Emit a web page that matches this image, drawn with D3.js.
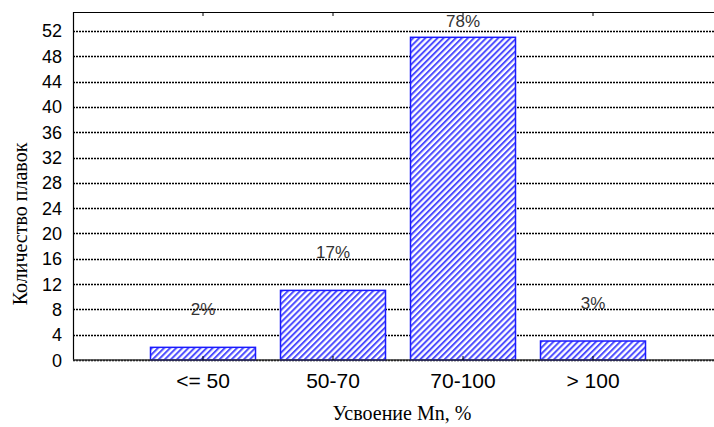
<!DOCTYPE html>
<html>
<head>
<meta charset="utf-8">
<script src="https://cdn.jsdelivr.net/npm/d3@7"></script>
<style>
body { margin: 0; background: #fff; }
</style>
</head>
<body>
<svg id="chart"></svg>
<script>
var categories = ["<= 50", "50-70", "70-100", "> 100"]
var counts = [2, 11, 51, 3]
var percentLabels = ["2%", "17%", "78%", "3%"]
var yTicks = [0, 4, 8, 12, 16, 20, 24, 28, 32, 36, 40, 44, 48, 52]

var w = 714, h = 427
var margins = {left: 73, top: 12}
var graphDim = {width: 650, height: 348}

var svg = d3.select("#chart").attr("width", w).attr("height", h)

// hatch pattern for the bars
var defs = svg.append("defs")
var pat = defs.append("pattern")
    .attr("id", "hatch")
    .attr("patternUnits", "userSpaceOnUse")
    .attr("width", 4.3).attr("height", 4.3)
    .attr("patternTransform", "rotate(45)")
pat.append("rect").attr("width", 4.3).attr("height", 4.3).attr("fill", "#ffffff")
pat.append("rect").attr("x", 0).attr("width", 2).attr("height", 4.3).attr("fill", "#4d4dff")

var target = svg.append("g")
    .attr("transform", "translate(" + margins.left + "," + margins.top + ")")

// positions 0..5, categories sit at 1..4
var xscale = d3.scaleLinear().domain([0, 5]).range([0, graphDim.width])
var yscale = d3.scaleLinear().domain([0, 55]).range([graphDim.height, 0])
var barw = 105

// grid lines
target.append("g").selectAll("line")
    .data(yTicks)
    .enter()
    .append("line")
    .attr("x1", 0)
    .attr("x2", graphDim.width)
    .attr("y1", function(d){return Math.round(yscale(d)) + 0.5})
    .attr("y2", function(d){return Math.round(yscale(d)) + 0.5})
    .attr("stroke", "#000")
    .attr("stroke-width", 1.6)
    .attr("stroke-dasharray", "2,1")

// bars
target.append("g").selectAll("rect")
    .data(counts)
    .enter()
    .append("rect")
    .attr("x", function(d, i){return xscale(i + 1) - barw/2})
    .attr("y", function(d){return yscale(d)})
    .attr("width", barw)
    .attr("height", function(d){return graphDim.height - yscale(d)})
    .attr("fill", "url(#hatch)")
    .attr("stroke", "#1a1aff")
    .attr("stroke-width", 1.5)

// percent labels
target.append("g").selectAll("text")
    .data(percentLabels)
    .enter()
    .append("text")
    .text(function(d){return d})
    .attr("x", function(d, i){return xscale(i + 1)})
    .attr("y", function(d, i){return yscale(Math.min(counts[i] + 6, 53.5)) + 6})
    .attr("text-anchor", "middle")
    .style("font-family", "Liberation Sans, Arial, sans-serif")
    .style("font-size", "17px")
    .attr("fill", "#333")

// frame: left, top, bottom
target.append("path")
    .attr("d", "M0.5," + graphDim.height + "V0.5H" + graphDim.width)
    .attr("fill", "none")
    .attr("stroke", "#000")
    .attr("stroke-width", 1.2)
target.append("line")
    .attr("x1", 0).attr("x2", graphDim.width)
    .attr("y1", graphDim.height).attr("y2", graphDim.height)
    .attr("stroke", "#333")
    .attr("stroke-width", 1.5)

// small ticks at category centres (top and bottom)
var tickg = target.append("g")
categories.forEach(function(c, i)
{
    tickg.append("line")
        .attr("x1", xscale(i + 1)).attr("x2", xscale(i + 1))
        .attr("y1", 0).attr("y2", 4)
        .attr("stroke", "#000")
    tickg.append("line")
        .attr("x1", xscale(i + 1)).attr("x2", xscale(i + 1))
        .attr("y1", graphDim.height).attr("y2", graphDim.height - 4)
        .attr("stroke", "#000")
})

// y tick labels
target.append("g").selectAll("text")
    .data(yTicks)
    .enter()
    .append("text")
    .text(function(d){return d})
    .attr("x", -11)
    .attr("y", function(d){return yscale(d) + 6.5})
    .attr("text-anchor", "end")
    .style("font-family", "Liberation Sans, Arial, sans-serif")
    .style("font-size", "18px")
    .attr("fill", "#000")

// x category labels
target.append("g").selectAll("text")
    .data(categories)
    .enter()
    .append("text")
    .text(function(d){return d})
    .attr("x", function(d, i){return xscale(i + 1)})
    .attr("y", graphDim.height + 28)
    .attr("text-anchor", "middle")
    .style("font-family", "Liberation Sans, Arial, sans-serif")
    .style("font-size", "21px")
    .attr("fill", "#000")

//x-label
svg.append("text")
    .text("Усвоение Mn, %")
    .attr("x", 402)
    .attr("y", 420)
    .attr("text-anchor", "middle")
    .style("font-family", "Liberation Serif, Times New Roman, serif")
    .style("font-size", "20px")
    .attr("fill", "#000")

//y-label
svg.append("text")
    .attr("transform", "translate(27,224) rotate(-90)")
    .text("Количество плавок")
    .attr("text-anchor", "middle")
    .style("font-family", "Liberation Serif, Times New Roman, serif")
    .style("font-size", "20px")
    .attr("fill", "#000")
</script>
</body>
</html>
